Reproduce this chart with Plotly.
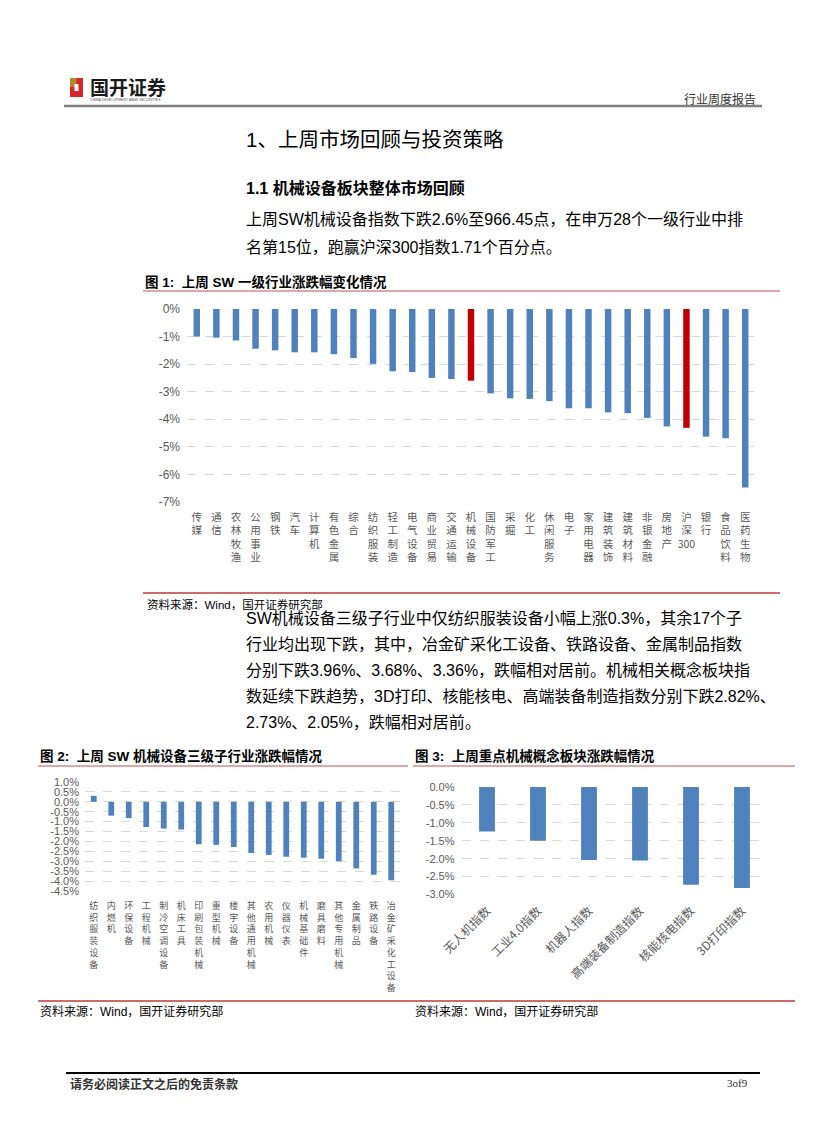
import plotly.graph_objects as go

W, H = 827, 1122

# ---------------- data ----------------
cat1 = ["传媒", "通信", "农林牧渔", "公用事业", "钢铁", "汽车", "计算机", "有色金属", "综合",
        "纺织服装", "轻工制造", "电气设备", "商业贸易", "交通运输", "机械设备", "国防军工", "采掘",
        "化工", "休闲服务", "电子", "家用电器", "建筑装饰", "建筑材料", "非银金融", "房地产",
        "沪深300", "银行", "食品饮料", "医药生物"]
val1 = [-1.00, -1.04, -1.14, -1.44, -1.50, -1.57, -1.57, -1.64, -1.78, -1.99, -2.26, -2.29,
        -2.50, -2.54, -2.60, -3.06, -3.24, -3.26, -3.34, -3.60, -3.60, -3.75, -3.78, -3.95,
        -4.26, -4.31, -4.63, -4.69, -6.47]
highlight1 = ["机械设备", "沪深300"]
ytick1 = [0, -1, -2, -3, -4, -5, -6, -7]
ylab1 = ["0%", "-1%", "-2%", "-3%", "-4%", "-5%", "-6%", "-7%"]

cat2 = ["纺织服装设备", "内燃机", "环保设备", "工程机械", "制冷空调设备", "机床工具", "印刷包装机械",
        "重型机械", "楼宇设备", "其他通用机械", "农用机械", "仪器仪表", "机械基础件", "磨具磨料",
        "其他专用机械", "金属制品", "铁路设备", "冶金矿采化工设备"]
val2 = [0.30, -0.70, -0.82, -1.27, -1.35, -1.40, -2.14, -2.17, -2.28, -2.58, -2.68, -2.77,
        -2.82, -2.87, -3.00, -3.36, -3.68, -3.96]
ytick2 = [1.0, 0.5, 0.0, -0.5, -1.0, -1.5, -2.0, -2.5, -3.0, -3.5, -4.0, -4.5]
ylab2 = ["1.0%", "0.5%", "0.0%", "-0.5%", "-1.0%", "-1.5%", "-2.0%", "-2.5%", "-3.0%",
         "-3.5%", "-4.0%", "-4.5%"]

cat3 = ["无人机指数", "工业4.0指数", "机器人指数", "高端装备制造指数", "核能核电指数", "3D打印指数"]
val3 = [-1.24, -1.50, -2.04, -2.05, -2.73, -2.82]
ytick3 = [0.0, -0.5, -1.0, -1.5, -2.0, -2.5, -3.0]
ylab3 = ["0.0%", "-0.5%", "-1.0%", "-1.5%", "-2.0%", "-2.5%", "-3.0%"]

# ---------------- page text ----------------
header_right = "行业周度报告"
company = "国开证券"
company_en = "CHINA DEVELOPMENT BANK SECURITIES"
heading = "1、上周市场回顾与投资策略"
subheading = "1.1 机械设备板块整体市场回顾"
para1 = ["上周SW机械设备指数下跌2.6%至966.45点，在申万28个一级行业中排",
         "名第15位，跑赢沪深300指数1.71个百分点。"]
para2 = ["SW机械设备三级子行业中仅纺织服装设备小幅上涨0.3%，其余17个子",
         "行业均出现下跌，其中，冶金矿采化工设备、铁路设备、金属制品指数",
         "分别下跌3.96%、3.68%、3.36%，跌幅相对居前。机械相关概念板块指",
         "数延续下跌趋势，3D打印、核能核电、高端装备制造指数分别下跌2.82%、",
         "2.73%、2.05%，跌幅相对居前。"]
title1 = "图 1:  上周 SW 一级行业涨跌幅变化情况"
title2 = "图 2:  上周 SW 机械设备三级子行业涨跌幅情况"
title3 = "图 3:  上周重点机械概念板块涨跌幅情况"
source = "资料来源：Wind，国开证券研究部"
footer = "请务必阅读正文之后的免责条款"
page_no = "3of9"

# ---------------- helpers ----------------
def X(px):
    return px / W


def Y(py):
    return 1 - py / H


FONT = "Liberation Sans, Noto Sans CJK SC, sans-serif"
CJK = "Noto Sans CJK SC, sans-serif"
BLUE = "#4F81BD"
RED = "#C00000"
GRAY = "#595959"
GRID = "#D9D9D9"

annotations = []
shapes = []


def text(x, y, s, size, color="#000000", bold=False, anchor="left", family=FONT):
    annotations.append(dict(
        x=X(x), y=Y(y), xref="paper", yref="paper", text=("<b>%s</b>" % s) if bold else s,
        showarrow=False, xanchor=anchor, yanchor="middle",
        font=dict(size=size, color=color, family=family)))


def hline(x0, x1, y, color, width):
    shapes.append(dict(type="line", xref="paper", yref="paper", x0=X(x0), x1=X(x1),
                       y0=Y(y), y1=Y(y), line=dict(color=color, width=width)))


def rect(x0, y0, x1, y1, color):
    shapes.append(dict(type="rect", xref="paper", yref="paper", x0=X(x0), x1=X(x1),
                       y0=Y(y1), y1=Y(y0), line=dict(width=0), fillcolor=color))


def vstack(s):
    if s == "沪深300":
        return "沪<br>深<br>300"
    return "<br>".join(list(s))


# ---------------- figure ----------------
fig = go.Figure()

fig.add_trace(go.Bar(
    x=cat1, y=val1, width=0.33,
    marker=dict(color=[RED if c in highlight1 else BLUE for c in cat1], line=dict(width=0)),
    xaxis="x", yaxis="y", showlegend=False, hoverinfo="x+y"))
fig.add_trace(go.Bar(
    x=cat2, y=val2, width=0.33, marker=dict(color=BLUE, line=dict(width=0)),
    xaxis="x2", yaxis="y2", showlegend=False, hoverinfo="x+y"))
fig.add_trace(go.Bar(
    x=cat3, y=val3, width=0.31, marker=dict(color=BLUE, line=dict(width=0)),
    xaxis="x3", yaxis="y3", showlegend=False, hoverinfo="x+y"))

yax_common = dict(showgrid=True, gridcolor=GRID, gridwidth=1, griddash="dash",
                  zeroline=False, showline=False, ticks="", fixedrange=True, automargin=False)
xax_common = dict(showgrid=False, zeroline=False, showline=False, ticks="", fixedrange=True,
                  type="category", automargin=False)

fig.update_layout(
    width=W, height=H, margin=dict(l=0, r=0, t=0, b=0, autoexpand=False),
    paper_bgcolor="white", plot_bgcolor="white", font=dict(family=FONT),
    xaxis=dict(domain=[X(187), X(755)], anchor="y", tickvals=cat1,
               ticktext=[vstack(c) for c in cat1], ticklabelstandoff=7,
               tickfont=dict(size=10.5, color=GRAY, family=CJK), **xax_common),
    yaxis=dict(domain=[Y(502), Y(309)], anchor="x", range=[-7, 0], tickvals=ytick1,
               ticktext=ylab1, ticklabelstandoff=6,
               tickfont=dict(size=12, color=GRAY, family=FONT), **yax_common),
    xaxis2=dict(domain=[X(85), X(400)], anchor="y2", tickvals=cat2,
                ticktext=[vstack(c) for c in cat2], ticklabelstandoff=8,
                tickfont=dict(size=9, color=GRAY, family=CJK), **xax_common),
    yaxis2=dict(domain=[Y(891), Y(782)], anchor="x2", range=[-4.5, 1.0], tickvals=ytick2,
                ticktext=ylab2, ticklabelstandoff=5,
                tickfont=dict(size=11, color=GRAY, family=FONT), **yax_common),
    xaxis3=dict(domain=[X(461.5), X(767.5)], anchor="y3", tickvals=cat3, ticktext=cat3,
                tickangle=-45, ticklabelstandoff=6,
                tickfont=dict(size=12, color=GRAY, family=CJK), **xax_common),
    yaxis3=dict(domain=[Y(894.5), Y(787)], anchor="x3", range=[-3, 0], tickvals=ytick3,
                ticktext=ylab3, ticklabelstandoff=6,
                tickfont=dict(size=11, color=GRAY, family=FONT), **yax_common),
)

# header / logo
rect(70, 78, 83, 97, "#D7262B")
rect(70, 78, 76.5, 87, "#B8862E")
rect(74.5, 84, 78.5, 91, "white")
text(88, 87, company, 19, "#1a1a1a", bold=True, family=CJK)
text(88, 100, company_en, 3.5, "#555555")
text(758, 98, header_right, 12, "#333333", anchor="right", family=CJK)
hline(64, 762, 106, "#7F7F7F", 2.5)

# section text
text(244, 139, heading, 20.5, "#000000")
text(244, 188, subheading, 16, "#000000", bold=True)
for i, line in enumerate(para1):
    text(244, 220 + 27 * i, line, 16, "#000000")

# figure 1
text(143, 282, title1, 13.5, "#000000", bold=True)
hline(143, 780, 291, "#C0504D", 1)
hline(143, 780, 593, "#CD6B6B", 2)
text(145, 604, source, 11.5, "#000000")

for i, line in enumerate(para2):
    text(244, 618 + 26.1 * i, line, 16, "#000000")

# figure 2 & 3
text(38, 756, title2, 13.5, "#000000", bold=True)
hline(38, 408, 766, "#C0504D", 1)
text(413, 756, title3, 13.5, "#000000", bold=True)
hline(413, 795, 766, "#C0504D", 1)
hline(38, 795, 1001, "#CD6B6B", 2)
text(38, 1011, source, 12, "#000000")
text(413, 1011, source, 12, "#000000")

# footer
hline(66, 760, 1073, "#000000", 2)
text(68, 1083, footer, 12, "#333333", bold=True, family=CJK)
text(750, 1083, page_no, 11, "#333333", anchor="right", family="Liberation Serif, serif")

fig.update_layout(annotations=annotations, shapes=shapes)

fig.write_html("out.html", config={"displayModeBar": False},
               post_script="document.body.style.margin='0px';")
